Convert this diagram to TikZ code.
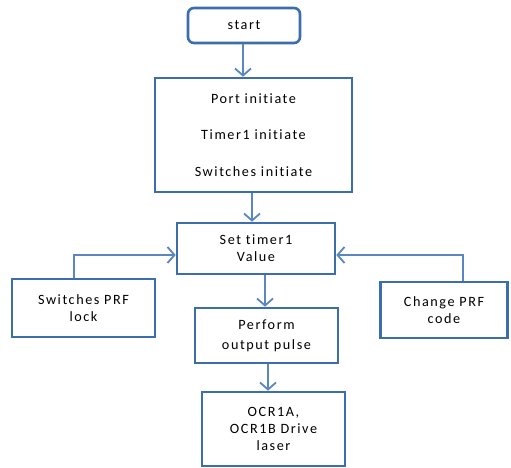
\documentclass[tikz,border=0pt]{standalone}
\usepackage{fontspec}
\setmainfont{Carlito}[Ligatures=NoCommon, LetterSpace=11]
\usetikzlibrary{arrows.meta}
\definecolor{boxblue}{HTML}{3C6DAC}
\definecolor{arrblue}{HTML}{5A87C0}
\tikzset{
  box/.style={draw=boxblue, line width=2.6pt, fill=white, inner sep=0pt, align=center,
    font=\fontsize{14.2}{17}\selectfont},
  conn/.style={draw=arrblue, line width=1.8pt, -{Straight Barb[length=7pt,width=16pt,line width=1.8pt]}},
}
\begin{document}
\begin{tikzpicture}[x=1pt,y=-1pt]
\useasboundingbox (0,0) rectangle (511,468);
\node[box, rounded corners=6pt, minimum width=112pt, minimum height=35pt] (start) at (244,25.5) {start};
\node[box, minimum width=197pt, minimum height=114pt, font=\fontsize{14.2}{36.5}\selectfont] (init) at (253.5,135) {Port initiate\\Timer1 initiate\\Switches initiate};
\node[box, minimum width=158pt, minimum height=51pt] (set) at (256,248.5) {Set timer1\\Value};
\node[box, minimum width=143pt, minimum height=58pt] (sw) at (83.5,308) {Switches PRF\\lock};
\node[box, minimum width=127pt, minimum height=56pt] (chg) at (444,310) {Change PRF\\code};
\node[box, minimum width=143pt, minimum height=55pt, font=\fontsize{14.2}{20}\selectfont] (perf) at (266.5,335.5) {Perform\\output pulse};
\node[box, minimum width=143pt, minimum height=74pt] (ocr) at (273.5,429) {OCR1A,\\OCR1B Drive\\laser};
\draw[conn] (start.south -| 243,0) -- (init.north -| 243,0);
\draw[conn] (init.south -| 252,0) -- (set.north -| 252,0);
\draw[conn] (set.south -| 265,0) -- (perf.north -| 265,0);
\draw[conn] (perf.south -| 268,0) -- (ocr.north -| 268,0);
\draw[conn] (sw.north -| 74,0) |- (set.west |- 0,255);
\draw[conn] (chg.north -| 463,0) |- (set.east |- 0,255);
\end{tikzpicture}
\end{document}
